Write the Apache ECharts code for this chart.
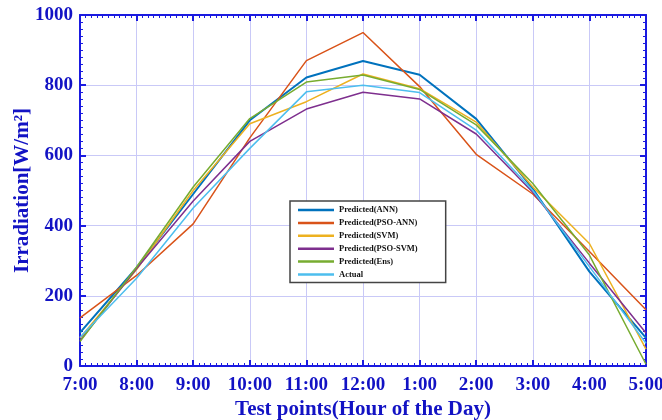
<!DOCTYPE html>
<html>
<head>
<meta charset="utf-8">
<script src="https://cdn.jsdelivr.net/npm/echarts@6/dist/echarts.min.js"></script>
<style>
  html, body { margin: 0; padding: 0; background: #fff; }
  #chart { width: 662px; height: 420px; }
</style>
</head>
<body>
<div id="chart"></div>
<script>
// tick labels for the hours
var hours = ["7:00", "8:00", "9:00", "10:00", "11:00", "12:00", "1:00", "2:00", "3:00", "4:00", "5:00"];
var names = ["Predicted(ANN)", "Predicted(PSO-ANN)", "Predicted(SVM)", "Predicted(PSO-SVM)", "Predicted(Ens)", "Actual"];
// values
var ann    = [95, 280, 490, 700, 822, 869, 830, 704, 505, 269, 80];
var psoAnn = [137, 258, 405, 650, 870, 950, 796, 603, 490, 326, 160];
var svm    = [80, 275, 500, 690, 753, 832, 790, 695, 510, 349, 48];
var psoSvm = [72, 278, 470, 640, 732, 780, 761, 661, 495, 293, 94];
var ens    = [70, 282, 510, 705, 809, 829, 788, 687, 520, 316, 5];
var actual = [82, 250, 450, 620, 781, 800, 779, 672, 500, 283, 65];

var colors = ["#0072BD", "#D95319", "#EDB120", "#7E2F8E", "#77AC30", "#4DBEEE"];
var allData = [ann, psoAnn, svm, psoSvm, ens, actual];
var axisBlue = "#1a1ae0";
var textBlue = "#1212c4";
var font = "Liberation Serif";

var chart = echarts.init(document.getElementById("chart"));

var series = allData.map(function (vals, i) {
  return {
    name: names[i],
    type: "line",
    symbol: "none",
    xAxisIndex: 0,
    yAxisIndex: 0,
    data: vals.map(function (v, k) { return [k, v]; }),
    lineStyle: { width: i == 0 ? 2 : 1.5, color: colors[i] },
    itemStyle: { color: colors[i] }
  };
});

function boxAxis(pos, isX) {
  return {
    type: "value",
    position: pos,
    min: 0,
    max: isX ? 10 : 1000,
    interval: isX ? 1 : 200,
    axisLine: { show: true, onZero: false, lineStyle: { color: axisBlue, width: 2 } },
    axisTick: { show: true, inside: true, length: 6, lineStyle: { color: axisBlue, width: 2 } },
    minorTick: { show: true, splitNumber: 10, length: 3, lineStyle: { color: axisBlue, width: 1 } },
    axisLabel: { show: false },
    splitLine: { show: false }
  };
}

var xTop = boxAxis("top", true);
var yRight = boxAxis("right", false);

chart.setOption({
  animation: false,
  color: colors,
  grid: { left: 80, top: 15, right: 16, bottom: 54, containLabel: false, outerBoundsMode: "none" },
  legend: {
    data: names,
    orient: "vertical",
    left: 290,
    top: 201,
    padding: [4, 28, 3, 8],
    itemGap: 2.9,
    itemWidth: 36,
    itemHeight: 2.5,
    icon: "rect",
    borderColor: "#444",
    borderWidth: 1.5,
    backgroundColor: "#fff",
    textStyle: { fontFamily: font, fontWeight: "bold", fontSize: 8.5, color: "#111", lineHeight: 10 }
  },
  xAxis: [
    {
      type: "value",
      position: "bottom",
      min: 0,
      max: 10,
      interval: 1,
      name: "Test points(Hour of the Day)",
      nameLocation: "middle",
      nameGap: 33,
      nameMoveOverlap: false,
      nameTextStyle: { fontFamily: font, fontWeight: "bold", fontSize: 21, color: textBlue },
      axisLine: { show: true, onZero: false, lineStyle: { color: axisBlue, width: 2 } },
      axisTick: { show: true, inside: true, length: 6, lineStyle: { color: axisBlue, width: 2 } },
      minorTick: { show: true, splitNumber: 10, length: 3, lineStyle: { color: axisBlue, width: 1 } },
      axisLabel: {
        margin: 10,
        fontFamily: font, fontWeight: "bold", fontSize: 19, color: textBlue,
        formatter: function (v) { return hours[v]; }
      },
      splitLine: { show: true, lineStyle: { color: "#c9c9f7", width: 1 } }
    },
    xTop
  ],
  yAxis: [
    {
      type: "value",
      position: "left",
      min: 0,
      max: 1000,
      interval: 200,
      name: "Irradiation[W/m²]",
      nameLocation: "middle",
      nameGap: 47,
      nameMoveOverlap: false,
      nameRotate: 90,
      nameTextStyle: { fontFamily: font, fontWeight: "bold", fontSize: 21, color: textBlue },
      axisLine: { show: true, onZero: false, lineStyle: { color: axisBlue, width: 2 } },
      axisTick: { show: true, inside: true, length: 6, lineStyle: { color: axisBlue, width: 2 } },
      minorTick: { show: true, splitNumber: 10, length: 3, lineStyle: { color: axisBlue, width: 1 } },
      axisLabel: {
        margin: 7, fontFamily: font, fontWeight: "bold", fontSize: 19, color: textBlue,
        formatter: function (v) { return String(v); }
      },
      splitLine: { show: true, lineStyle: { color: "#c9c9f7", width: 1 } }
    },
    yRight
  ],
  series: series
});
</script>
</body>
</html>
